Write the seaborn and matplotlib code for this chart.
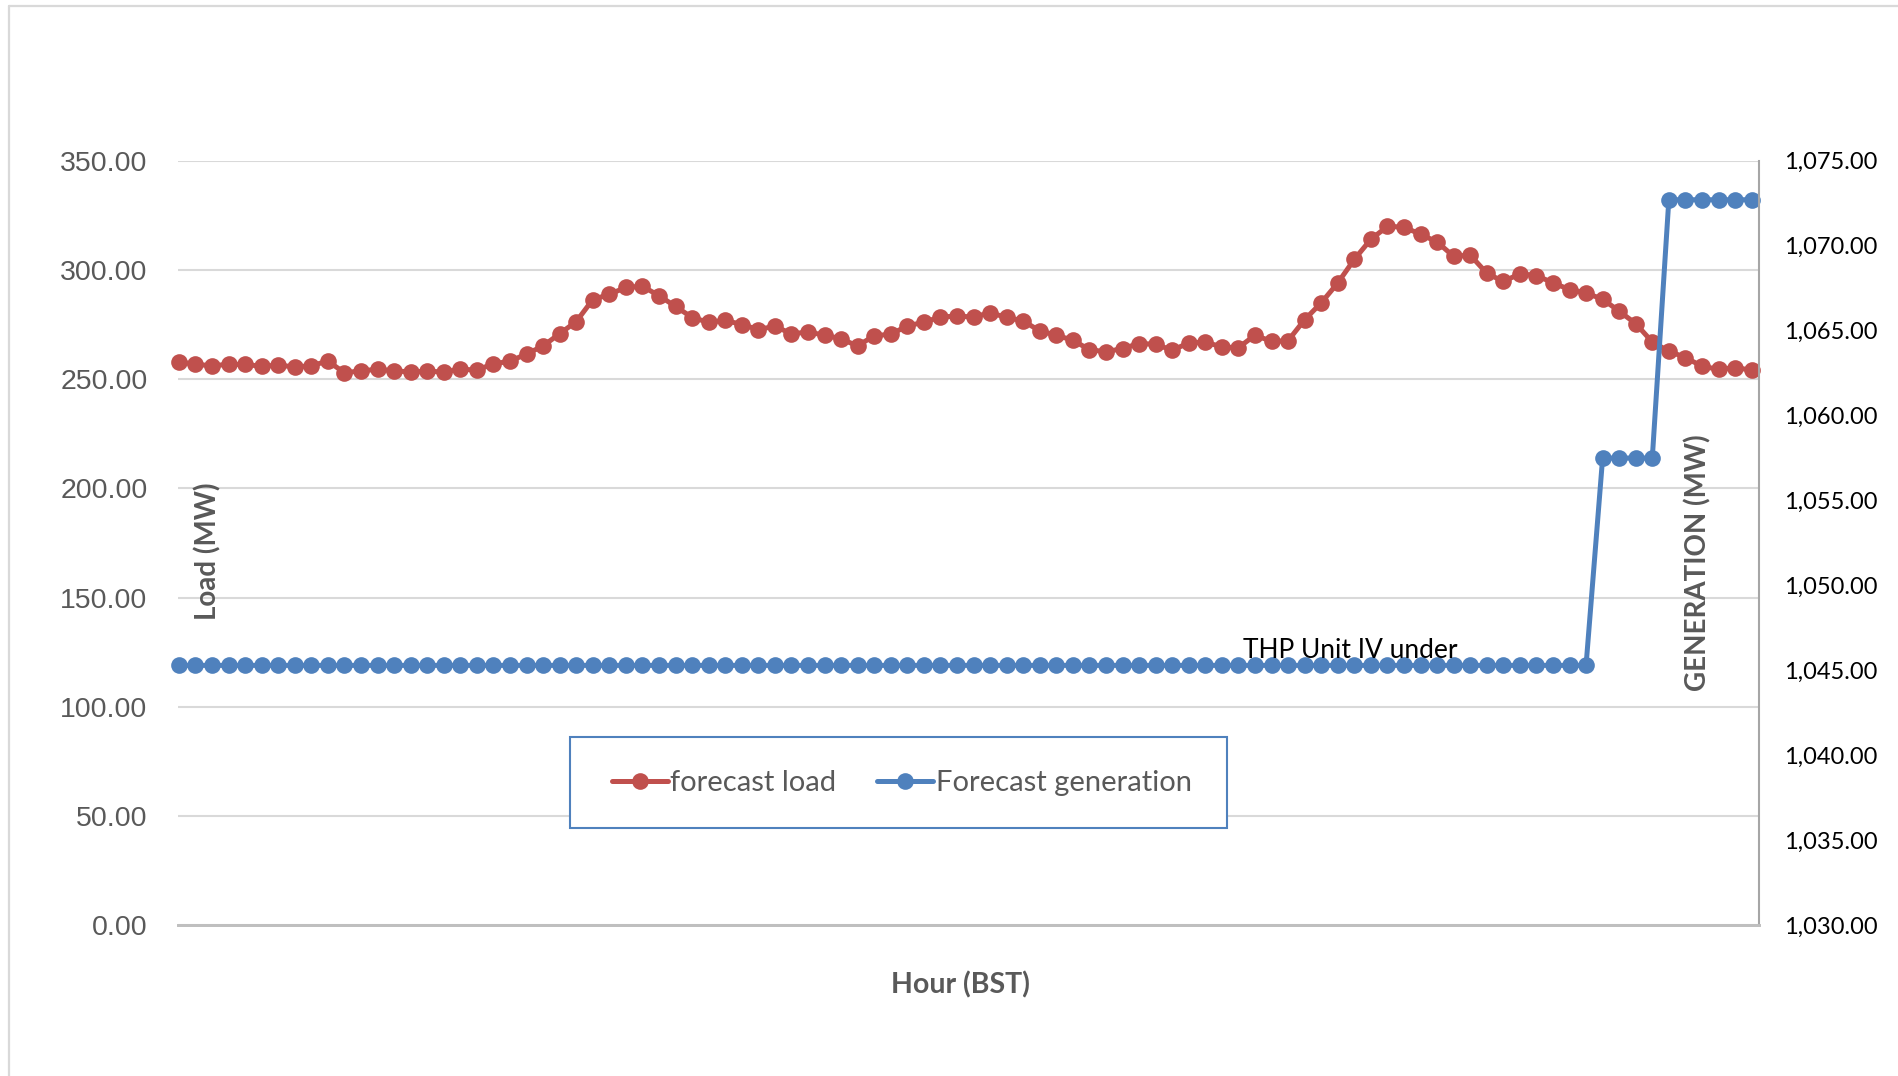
import numpy as np
import pandas as pd
import matplotlib.pyplot as plt
import seaborn as sns
from matplotlib.lines import Line2D
from matplotlib.patches import Rectangle
from matplotlib.ticker import FuncFormatter

# Dados (96 intervalos de 15 min)
intervals = list(range(96))

forecast_load = [
    257.9, 256.8, 256.1, 256.8, 256.7, 255.9, 256.4, 255.6, 256.1, 258.3, 252.9, 253.8,
    254.5, 253.8, 253.3, 253.6, 253.3, 254.5, 254.2, 257.0, 258.2, 261.5, 265.2, 270.8,
    276.3, 286.4, 288.8, 292.0, 292.5, 288.2, 283.3, 278.2, 276.0, 276.9, 275.0, 272.7,
    274.2, 270.8, 271.5, 270.2, 268.4, 265.2, 269.9, 270.5, 274.4, 276.0, 278.5, 278.8,
    278.5, 280.3, 278.3, 276.6, 272.1, 270.1, 267.8, 263.5, 262.5, 264.0, 266.3, 266.0,
    263.2, 266.6, 267.0, 264.7, 264.4, 270.1, 267.3, 267.6, 277.2, 284.9, 294.0, 304.8,
    314.0, 319.9, 319.6, 316.3, 312.8, 306.2, 306.8, 298.5, 294.7, 298.2, 297.4, 294.1,
    291.0, 289.4, 286.6, 281.1, 275.4, 267.0, 262.8, 259.9, 255.9, 254.5, 255.3, 254.1,
]

forecast_generation = [
    1045.3, 1045.3, 1045.3, 1045.3, 1045.3, 1045.3, 1045.3, 1045.3, 1045.3, 1045.3, 1045.3, 1045.3,
    1045.3, 1045.3, 1045.3, 1045.3, 1045.3, 1045.3, 1045.3, 1045.3, 1045.3, 1045.3, 1045.3, 1045.3,
    1045.3, 1045.3, 1045.3, 1045.3, 1045.3, 1045.3, 1045.3, 1045.3, 1045.3, 1045.3, 1045.3, 1045.3,
    1045.3, 1045.3, 1045.3, 1045.3, 1045.3, 1045.3, 1045.3, 1045.3, 1045.3, 1045.3, 1045.3, 1045.3,
    1045.3, 1045.3, 1045.3, 1045.3, 1045.3, 1045.3, 1045.3, 1045.3, 1045.3, 1045.3, 1045.3, 1045.3,
    1045.3, 1045.3, 1045.3, 1045.3, 1045.3, 1045.3, 1045.3, 1045.3, 1045.3, 1045.3, 1045.3, 1045.3,
    1045.3, 1045.3, 1045.3, 1045.3, 1045.3, 1045.3, 1045.3, 1045.3, 1045.3, 1045.3, 1045.3, 1045.3,
    1045.3, 1045.3, 1057.5, 1057.5, 1057.5, 1057.5, 1072.7, 1072.7, 1072.7, 1072.7, 1072.7, 1072.7,
]

series_labels = ["forecast load", "Forecast generation"]
load_ticks = [0, 50, 100, 150, 200, 250, 300, 350]
gen_ticks = [1030, 1035, 1040, 1045, 1050, 1055, 1060, 1065, 1070, 1075]

RED = "#C0504D"
BLUE = "#4F81BD"
GRAY_TXT = "#595959"

df = pd.DataFrame({"interval": intervals, "load": forecast_load, "generation": forecast_generation})

sns.set_theme(style="white")
plt.rcParams['font.family'] = ['Lato', 'DejaVu Sans']

fig = plt.figure(figsize=(18.98, 10.76), dpi=100)
ax = fig.add_axes([0.0938, 0.1400, 0.8330, 0.7107])
ax2 = ax.twinx()

line_kw = dict(marker='o', markersize=12, markeredgewidth=0, linewidth=3.6)
sns.lineplot(data=df, x="interval", y="load", ax=ax, color=RED, legend=False, clip_on=False, **line_kw)
sns.lineplot(data=df, x="interval", y="generation", ax=ax2, color=BLUE, legend=False, clip_on=False, **line_kw)

# Eixo esquerdo (carga)
ax.set_xlim(-0.05, 95.45)
ax.set_ylim(0, 350)
ax.set_yticks(load_ticks)
ax.yaxis.set_major_formatter(FuncFormatter(lambda v, p: f"{v:.2f}"))
ax.set_xticks([])
ax.set_xlabel("")
ax.set_ylabel("")
ax.tick_params(axis='y', length=0, pad=22, labelsize=20.5, labelcolor=GRAY_TXT)
for lbl in ax.get_yticklabels():
    lbl.set_family(['Liberation Sans', 'DejaVu Sans'])
ax.yaxis.grid(True, color="#D9D9D9", linewidth=1.5)
ax.set_axisbelow(True)

# Eixo direito (geração)
ax2.set_ylim(1030, 1075)
ax2.set_yticks(gen_ticks)
ax2.yaxis.set_major_formatter(FuncFormatter(lambda v, p: f"{v:,.2f}"))
ax2.set_ylabel("")
ax2.tick_params(axis='y', length=0, pad=18, labelsize=17, labelcolor="black")
ax2.grid(False)

for a in (ax, ax2):
    for side in ("top", "left"):
        a.spines[side].set_visible(False)
    a.spines["bottom"].set_color("#BFBFBF")
    a.spines["bottom"].set_linewidth(2)
ax.spines["right"].set_visible(False)
ax2.spines["right"].set_color("#A6A6A6")
ax2.spines["right"].set_linewidth(1.5)

# Títulos dos eixos
fig.text(0.1096, 0.488, "Load (MW)", rotation=90, ha='center', va='center',
         fontsize=20, fontweight='bold', color=GRAY_TXT)
fig.text(0.8946, 0.477, "GENERATION (MW)", rotation=90, ha='center', va='center',
         fontsize=20, fontweight='bold', color=GRAY_TXT)
fig.text(0.5058, 0.0846, "Hour (BST)", ha='center', va='center',
         fontsize=20.5, fontweight='bold', color=GRAY_TXT)
fig.text(0.6549, 0.3959, "THP Unit IV under", ha='left', va='center',
         fontsize=19, color="black")

# Legenda (caixa desenhada à parte)
fig.add_artist(Rectangle((0.3003, 0.2305), 0.3462, 0.0846, transform=fig.transFigure,
                         facecolor="white", edgecolor=BLUE, linewidth=1.5, zorder=5))
handles = [
    Line2D([], [], color=RED, **line_kw),
    Line2D([], [], color=BLUE, **line_kw),
]
leg = fig.legend(handles, series_labels, loc='center', bbox_to_anchor=(0.4752, 0.2725),
                 ncol=2, frameon=False, handlelength=1.9, handletextpad=0.1,
                 columnspacing=1.4, fontsize=21, labelcolor=GRAY_TXT)
leg.set_zorder(6)

# Borda da área do gráfico
fig.add_artist(Line2D([0.0047, 0.0047], [0.0, 0.9940], transform=fig.transFigure,
                      color="#D9D9D9", linewidth=1.6))
fig.add_artist(Line2D([0.0047, 1.0], [0.9940, 0.9940], transform=fig.transFigure,
                      color="#D9D9D9", linewidth=1.6))

plt.savefig("out.png", dpi=100)
plt.close()
